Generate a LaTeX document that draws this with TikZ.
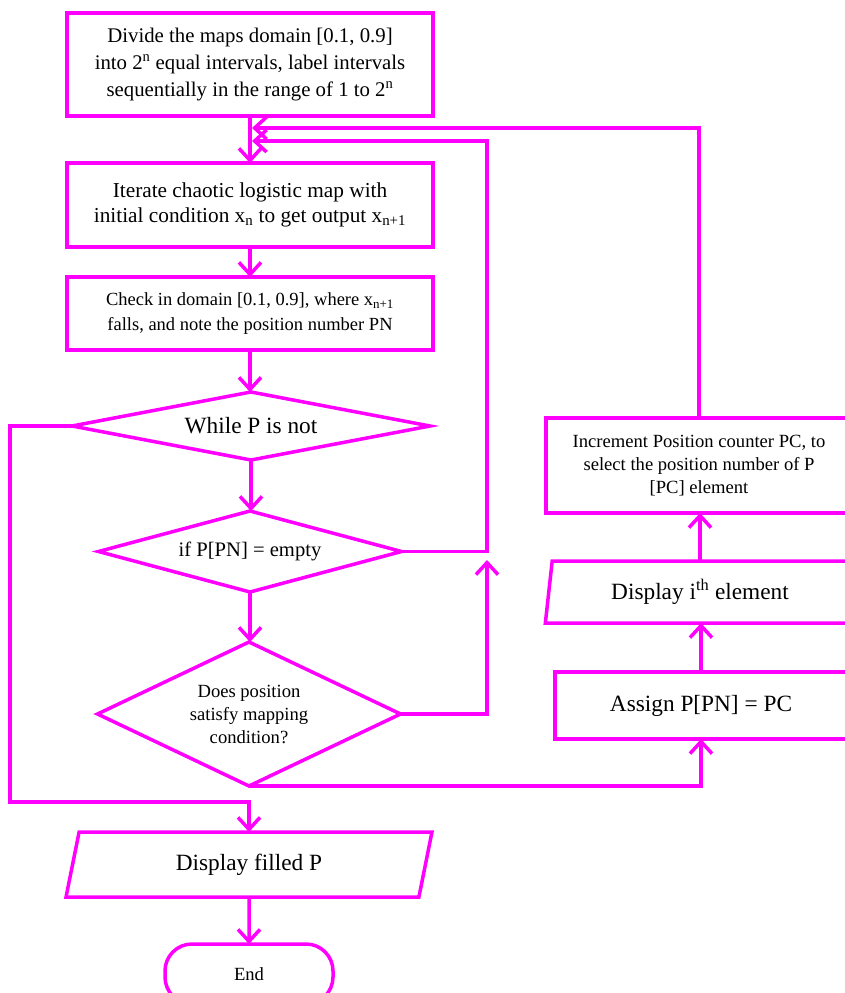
\documentclass[tikz,border=0pt]{standalone}
\usepackage{fontspec}
\setmainfont{Liberation Serif}
\usetikzlibrary{arrows.meta,shapes.geometric}
\definecolor{mag}{RGB}{255,0,255}
\begin{document}
\begin{tikzpicture}[x=1pt,y=-1pt,line width=3.5pt,
  every node/.style={inner sep=0pt,outer sep=0pt,text=black,align=center},
  box/.style={draw=mag,rectangle},
  dia/.style={draw=mag,diamond},
  para/.style={draw=mag,trapezium,trapezium stretches=true,
     trapezium left angle=#1,trapezium right angle=180-#1},
  arr/.style={draw=mag,-{Straight Barb[length=12pt,width=22pt,line width=3.5pt]}},
  ln/.style={draw=mag},
  fa/.style={font=\fontsize{20.8pt}{27pt}\selectfont},
  fb/.style={font=\fontsize{21.3pt}{25pt}\selectfont},
  fc/.style={font=\fontsize{18.5pt}{25pt}\selectfont},
  fd/.style={font=\fontsize{23.3pt}{28pt}\selectfont},
  fe/.style={font=\fontsize{20.6pt}{25pt}\selectfont},
  ff/.style={font=\fontsize{18.6pt}{23pt}\selectfont}]
\useasboundingbox (0,0) rectangle (845,993);
\clip (0,0) rectangle (845,993);

% main column
\node[box,fa,minimum width=366,minimum height=103] (b1) at (250,64.5)
  {Divide the maps domain [0.1, 0.9]\\into 2\textsuperscript{n} equal intervals, label intervals\\sequentially in the range of 1 to 2\textsuperscript{n}};
\node[box,fb,minimum width=366,minimum height=84] (b2) at (250,205)
  {Iterate chaotic logistic map with\\initial condition x\textsubscript{n} to get output x\textsubscript{n+1}};
\node[box,fc,minimum width=366,minimum height=73] (b3) at (250,313.5)
  {Check in domain [0.1, 0.9], where x\textsubscript{n+1}\\falls, and note the position number PN};
\node[dia,minimum width=358,minimum height=68] (d1) at (251,426) {};
\node[fd] (t1) at (d1) {While P is not};
\node[dia,minimum width=303,minimum height=81] (d2) at (250,551.5) {};
\node[fe] (t2) at (d2) {if P[PN] = empty};
\node[dia,minimum width=303,minimum height=144] (d3) at (249,714) {};
\node[ff] (t3) at (d3) {Does position\\satisfy mapping\\condition?};
\node[para=75.3,fd,minimum width=366,minimum height=65] (dfp) at (249,864.5) {Display filled P};
\node[draw=mag,rounded corners=27pt,ff,minimum width=168,minimum height=60] (end) at (249,974) {End};

% right column
\node[box,ff,minimum width=306,minimum height=95] (inc) at (699,465.5)
  {Increment Position counter PC, to\\select the position number of P\\{}[PC] element};
\node[para=80.8,fd,minimum width=310,minimum height=62] (dsp) at (700,592) {Display i\textsuperscript{th} element};
\node[box,fd,minimum width=292,minimum height=67] (asg) at (701,705.5) {Assign P[PN] = PC};

% junction points
\coordinate (m1) at (252,128);
\coordinate (m2) at (252,141);
\coordinate (r1) at (487,141);
\coordinate (r2) at (487,560);
\coordinate (lc) at (10,802);

% connectors
\draw[arr] (b1.south) -- (b2.north);
\draw[arr] (b2.south) -- (b3.north);
\draw[arr] (b3.south) -- (b3.south |- d1.north);
\draw[arr] (d1.south) -- (d1.south |- d2.north);
\draw[arr] (d2.south) -- (d2.south |- d3.north);
\draw[arr] (d1.west) -| (lc) -| (dfp.north);
\draw[arr] (dfp.south) -- (end.north);
\draw[arr] (d2.east) -| (r1) -- (m2);
\draw[arr] (d3.east) -| (r2);
\draw[arr] (d3.south) -| (asg.south);
\draw[arr] (asg.north) -- (asg.north |- dsp.south);
\draw[arr] (dsp.north) -- (dsp.north |- inc.south);
\draw[arr] (inc.north) |- (m1);
\end{tikzpicture}
\end{document}
